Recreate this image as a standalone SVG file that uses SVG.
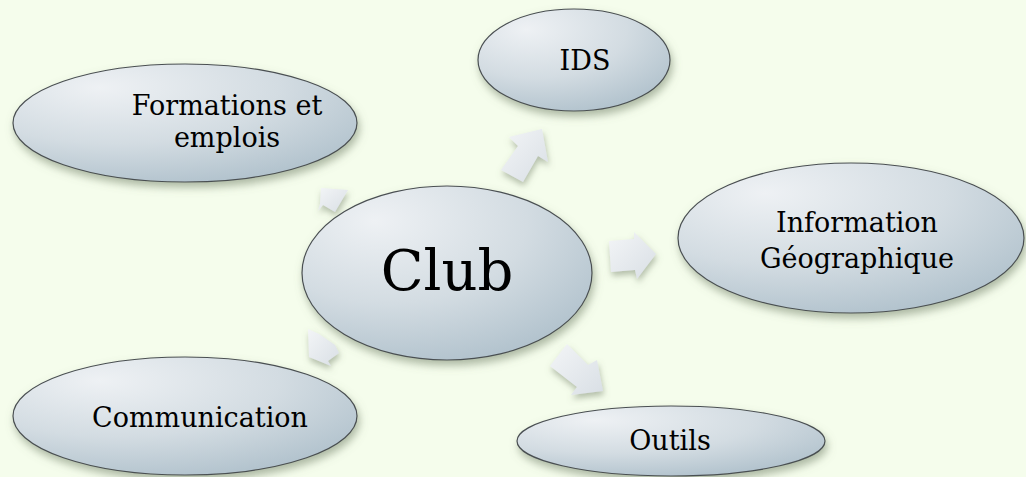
<svg xmlns="http://www.w3.org/2000/svg" width="1026" height="477" viewBox="0 0 1026 477">
<defs>
<radialGradient id="eg" cx="0.35" cy="0.2" r="0.95" fx="0.25" fy="0.2">
<stop offset="0" stop-color="#eef1f4"/>
<stop offset="0.5" stop-color="#d3dce2"/>
<stop offset="1" stop-color="#a8bbc7"/>
</radialGradient>
<linearGradient id="ag" x1="0" y1="0" x2="1" y2="1">
<stop offset="0" stop-color="#f3f5f7"/>
<stop offset="1" stop-color="#d9dfe5"/>
</linearGradient>
<filter id="sh" x="-20%" y="-20%" width="140%" height="150%">
<feDropShadow dx="2" dy="5" stdDeviation="4" flood-color="#6f7f66" flood-opacity="0.55"/>
</filter>
<filter id="ash" x="-40%" y="-40%" width="180%" height="180%">
<feDropShadow dx="1" dy="4" stdDeviation="3" flood-color="#6f7f66" flood-opacity="0.5"/>
</filter>
</defs>
<style>
.node ellipse{fill:url(#eg);stroke:#4a4f52;stroke-width:1.2;filter:url(#sh)}
.node text{font-family:"DejaVu Serif","Liberation Serif",serif;font-size:27px;fill:#000;text-anchor:middle}
.arrow{fill:url(#ag);filter:url(#ash)}
</style>
<rect width="1026" height="477" fill="#f5fdec"/>
<g id="connectors">
<polygon class="arrow" points="542,129 509,137 518,146 501,170 523,182 538,156 548,162"/>
<polygon class="arrow" points="609,241 634,239 634,232 656,254 637,279 635,270 611,272"/>
<polygon class="arrow" points="567,344 588,365 597,360 603,391 571,395 577,387 550,366"/>
<polygon class="arrow" points="308,329 319,334 335,345 339,353 328,361 331,366 309,357"/>
<polygon class="arrow" points="321,188 348,190 335,212 323,205 318,211 320,204"/>
</g>
<g id="node-formations" class="node">
<ellipse cx="185" cy="123" rx="172" ry="59"/>
<text x="227" y="115">Formations et</text>
<text x="227" y="147">emplois</text>
</g>
<g id="node-ids" class="node">
<ellipse cx="574" cy="60" rx="96" ry="51"/>
<text x="585" y="70">IDS</text>
</g>
<g id="node-info" class="node">
<ellipse cx="851" cy="238" rx="173" ry="75"/>
<text x="857" y="232">Information</text>
<text x="857" y="268">Géographique</text>
</g>
<g id="node-outils" class="node">
<ellipse cx="671" cy="441" rx="154" ry="35"/>
<text x="670" y="450">Outils</text>
</g>
<g id="node-communication" class="node">
<ellipse cx="185" cy="416" rx="172" ry="59"/>
<text x="200" y="427">Communication</text>
</g>
<g id="node-club" class="node">
<ellipse cx="447" cy="273" rx="145" ry="87"/>
<text x="447" y="290" style="font-size:56px">Club</text>
</g>
</svg>
